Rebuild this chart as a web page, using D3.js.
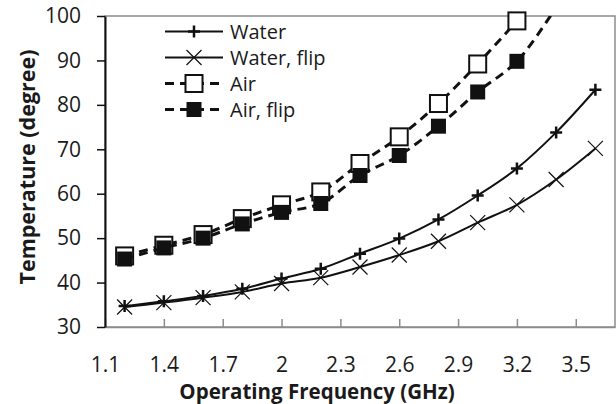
<!DOCTYPE html>
<html>
<head>
<meta charset="utf-8">
<script src="https://cdnjs.cloudflare.com/ajax/libs/d3/7.8.5/d3.min.js"></script>
<style>
	body { margin: 0; background: #fff; }
	text { font-family: "Open Sans", sans-serif; fill: #1a1a1a; }
</style>
</head>
<body>
<div id="chart"></div>
<script>
		// values
		var freq = [1.2, 1.4, 1.6, 1.8, 2.0, 2.2, 2.4, 2.6, 2.8, 3.0, 3.2, 3.4, 3.6];
		var water = [34.7, 35.8, 37.0, 38.6, 40.9, 43.1, 46.5, 49.9, 54.2, 59.6, 65.7, 73.8, 83.4];
		var waterFlip = [34.5, 35.5, 36.6, 37.9, 39.8, 41.1, 43.5, 46.2, 49.3, 53.5, 57.5, 63.2, 70.2];
		var air = [46.0, 48.4, 50.8, 54.4, 57.5, 60.4, 66.8, 72.8, 80.3, 89.2, 98.9];
		var airFlip = [45.3, 47.8, 50.0, 53.2, 55.8, 57.8, 64.1, 68.6, 75.2, 82.9, 89.8, 102];
		var names = ["Water", "Water, flip", "Air", "Air, flip"];
		var xTicks = [1.1, 1.4, 1.7, 2, 2.3, 2.6, 2.9, 3.2, 3.5];
		var yTicks = [30, 40, 50, 60, 70, 80, 90, 100];

		var W = 616,
		    H = 404,
		    mleft = 105,
		    mtop = 16,
		    mright = 1,
		    mbottom = 77;
		var w = W - mleft - mright,
		    h = H - mtop - mbottom;

		var svg = d3.select("#chart")
			.append("svg")
			.attr("width", W)
			.attr("height", H)
			.append("g")
			.attr("transform", "translate(" + mleft + "," + mtop + ")");

		var x = d3.scaleLinear()
			.domain([1.1, 3.7])
			.range([0, w]);

		var y = d3.scaleLinear()
			.domain([30, 100])
			.range([h, 0]);

		svg.append("clipPath")
			.attr("id", "clip")
			.append("rect")
			.attr("width", w)
			.attr("height", h);

		// plot area border
		svg.append("rect")
			.attr("width", w)
			.attr("height", h)
			.attr("fill", "none")
			.attr("stroke", "#8c8c8c")
			.attr("stroke-width", 1.5);

		var xAxis = d3.axisBottom(x)
			.tickValues(xTicks)
			.tickFormat(String)
			.tickSizeInner(-8)
			.tickSizeOuter(0)
			.tickPadding(30);

		var gx = svg.append("g")
			.attr("class", "x axis")
			.attr("transform", "translate(0," + h + ")")
			.call(xAxis);
		gx.select(".domain").attr("stroke", "#8c8c8c").attr("stroke-width", 1.5);
		gx.selectAll(".tick line").attr("stroke", "#8c8c8c").attr("stroke-width", 1.5);
		gx.selectAll("text")
			.style("font-size", "21px")
			.attr("fill", "#1a1a1a");

		var yAxis = d3.axisLeft(y)
			.tickValues(yTicks)
			.tickSize(8)
			.tickSizeOuter(0)
			.tickPadding(16);

		var gy = svg.append("g")
			.attr("class", "y axis")
			.call(yAxis);
		gy.select(".domain").attr("stroke", "#111").attr("stroke-width", 2);
		gy.selectAll(".tick line").attr("stroke", "#111").attr("stroke-width", 1.5);
		gy.selectAll("text")
			.style("font-size", "21px")
			.attr("fill", "#1a1a1a");

		svg.append("text")
			.attr("x", w / 2 - 43)
			.attr("y", 383)
			.attr("text-anchor", "middle")
			.style("font-size", "20.5px")
			.style("font-weight", "bold")
			.text("Operating Frequency (GHz)");

		svg.append("text")
			.attr("transform", "rotate(-90)")
			.attr("x", -151)
			.attr("y", -78)
			.attr("dy", "0.35em")
			.attr("text-anchor", "middle")
			.style("font-size", "21.5px")
			.style("font-weight", "bold")
			.text("Temperature (degree)");

		var series = [
			{name: names[0], vals: water, dash: null, width: 2, mark: "plus"},
			{name: names[1], vals: waterFlip, dash: null, width: 2, mark: "cross"},
			{name: names[2], vals: air, dash: "9,6", width: 3, mark: "open"},
			{name: names[3], vals: airFlip, dash: "9,6", width: 3, mark: "filled"}
		];

		var line = d3.line()
			.x(function(d){ return x(d[0]); })
			.y(function(d){ return y(d[1]); })
			.curve(d3.curveCatmullRom);

		function drawMark(g, type) {
			if (type == "plus") {
				g.append("path").attr("d", "M-6,0H6M0,-6V6")
					.attr("stroke", "#111").attr("stroke-width", 2.5);
			} else if (type == "cross") {
				g.append("path").attr("d", "M-7.5,-7.5L7.5,7.5M-7.5,7.5L7.5,-7.5")
					.attr("stroke", "#111").attr("stroke-width", 1.2);
			} else if (type == "open") {
				g.append("rect").attr("x", -8.5).attr("y", -8.5)
					.attr("width", 17).attr("height", 17)
					.attr("fill", "#fff").attr("stroke", "#111").attr("stroke-width", 2);
			} else {
				g.append("rect").attr("x", -7.5).attr("y", -7.5)
					.attr("width", 15).attr("height", 15)
					.attr("fill", "#111");
			}
		}

		series.forEach(function(s){
			var pts = s.vals.map(function(v, i){ return [freq[i], v]; });

			svg.append("path")
				.datum(pts)
				.attr("clip-path", "url(#clip)")
				.attr("d", line)
				.attr("fill", "none")
				.attr("stroke", "#111")
				.attr("stroke-width", s.width)
				.attr("stroke-dasharray", s.dash);

			svg.selectAll(null)
				.data(pts.filter(function(p){ return p[1] <= 100; }))
				.enter()
				.append("g")
				.attr("transform", function(d){ return "translate(" + x(d[0]) + "," + y(d[1]) + ")"; })
				.each(function(){ drawMark(d3.select(this), s.mark); });
		});

		// legend
		var legend = svg.append("g")
			.attr("transform", "translate(" + (165 - mleft) + "," + (31.5 - mtop) + ")");

		series.forEach(function(s, i){
			var row = legend.append("g")
				.attr("transform", "translate(0," + (i * 26) + ")");
			row.append("line")
				.attr("x1", 0)
				.attr("x2", 58)
				.attr("stroke", "#111")
				.attr("stroke-width", s.width)
				.attr("stroke-dasharray", s.dash);
			drawMark(row.append("g").attr("transform", "translate(29,0)"), s.mark);
			row.append("text")
				.attr("x", 65)
				.attr("dy", "0.35em")
				.style("font-size", "20px")
				.text(s.name);
		});
</script>
</body>
</html>
